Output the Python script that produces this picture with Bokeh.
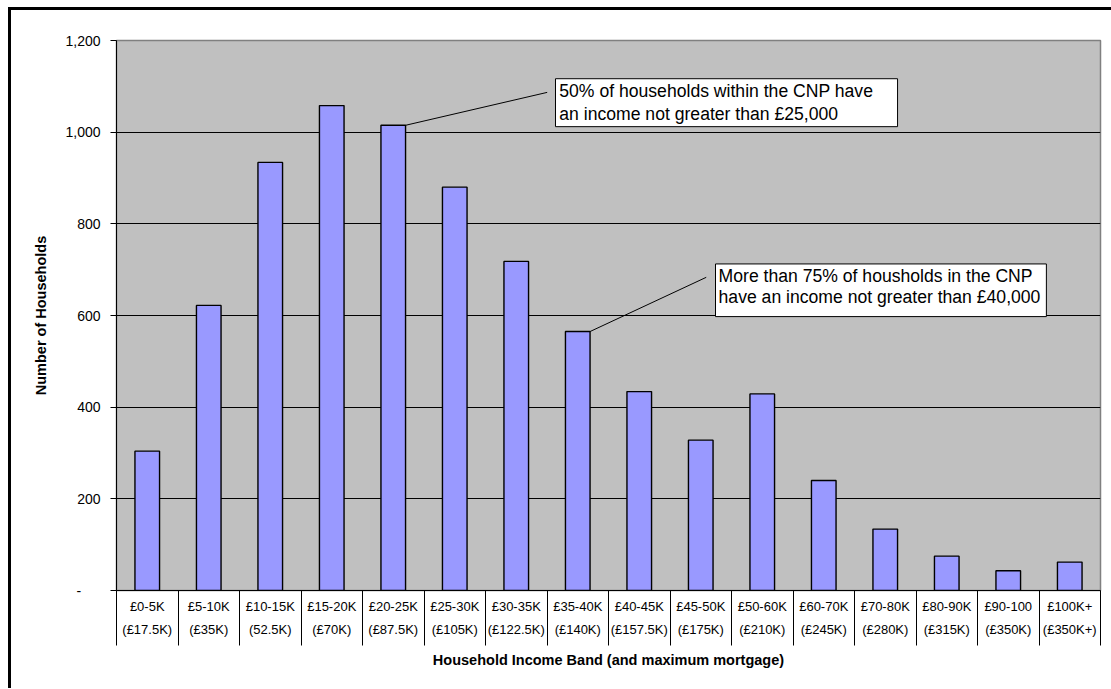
import numpy as np
from bokeh.plotting import figure
from bokeh.layouts import row, column
from bokeh.models import FixedTicker, LinearAxis, NumeralTickFormatter, Range1d, Spacer
from bokeh.core.properties import value
from bokeh.embed import file_html
from bokeh.resources import INLINE

# ---- data ----
bands = ["£0-5K", "£5-10K", "£10-15K", "£15-20K", "£20-25K", "£25-30K", "£30-35K", "£35-40K",
         "£40-45K", "£45-50K", "£50-60K", "£60-70K", "£70-80K", "£80-90K", "£90-100", "£100K+"]
mortgages = ["(£17.5K)", "(£35K)", "(52.5K)", "(£70K)", "(£87.5K)", "(£105K)", "(£122.5K)", "(£140K)",
             "(£157.5K)", "(£175K)", "(£210K)", "(£245K)", "(£280K)", "(£315K)", "(£350K)", "(£350K+)"]
households = [304, 622, 934, 1058, 1015, 880, 718, 565, 434, 328, 429, 240, 134, 75, 43, 62]
y_ticks = [0, 200, 400, 600, 800, 1000, 1200]
note_50 = ["50% of households within the CNP have", "an income not greater than £25,000"]
note_75 = ["More than 75% of housholds in the CNP", "have an income not greater than £40,000"]

FONT = "Liberation Sans"
n = len(bands)
centers = [i + 0.5 for i in range(n)]
bounds = list(range(n + 1))

OX, OY = 11, 10          # page offset of the figure (margin + border)
W, H = 1100, 676
p = figure(width=W, height=H, output_backend="svg", toolbar_location=None,
           x_range=Range1d(0, n), y_range=Range1d(0, 1200),
           min_border_left=116 - OX, min_border_right=W - (1100 - OX),
           min_border_top=40 - OY, min_border_bottom=H - (590 - OY),
           background_fill_color="#C0C0C0", border_fill_color="white")
p.outline_line_color = "#808080"
p.outline_line_width = 1.5

p.xgrid.visible = False
p.ygrid.ticker = FixedTicker(ticks=y_ticks)
p.ygrid.grid_line_color = "black"
p.ygrid.grid_line_width = 1

# bars
p.vbar(x=centers, top=households, width=0.4, bottom=0,
       fill_color="#9999FF", line_color="black", line_width=1.4)

# y axis
ya = p.yaxis[0]
ya.ticker = FixedTicker(ticks=y_ticks)
ya.formatter = NumeralTickFormatter(format="0,0")
ya.major_label_overrides = {0: "-\u00a0\u00a0\u00a0\u00a0\u00a0"}
ya.major_tick_out = 6
ya.major_tick_in = 0
ya.minor_tick_line_color = None
ya.axis_line_color = "black"
ya.major_tick_line_color = "black"
ya.major_label_standoff = 10
ya.major_label_text_font = FONT
ya.major_label_text_font_size = "14px"
ya.major_label_text_color = "black"
ya.axis_label = "Number of Households"
ya.axis_label_text_font = FONT
ya.axis_label_text_font_style = "bold"
ya.axis_label_text_font_size = "14.5px"
ya.axis_label_text_color = "black"
ya.axis_label_standoff = 13

# x axis row 1 (bands) with separators
xa = p.xaxis[0]
xa.ticker = FixedTicker(ticks=centers, minor_ticks=bounds)
xa.major_label_overrides = {c: b for c, b in zip(centers, bands)}
xa.major_tick_line_color = None
xa.major_tick_out = 0
xa.major_tick_in = 0
xa.minor_tick_in = 0
xa.minor_tick_out = 55
xa.minor_tick_line_color = "black"
xa.axis_line_color = "black"
xa.major_label_standoff = -47
xa.major_label_text_font = FONT
xa.major_label_text_font_size = "13px"
xa.major_label_text_color = "black"

# x axis row 2 (mortgages) + title
xa2 = LinearAxis(ticker=FixedTicker(ticks=centers),
                 major_label_overrides={c: m for c, m in zip(centers, mortgages)})
xa2.axis_line_color = None
xa2.major_tick_line_color = None
xa2.minor_tick_line_color = None
xa2.major_tick_out = 0
xa2.major_tick_in = 0
xa2.major_label_standoff = 5
xa2.major_label_text_font = FONT
xa2.major_label_text_font_size = "13px"
xa2.major_label_text_color = "black"
xa2.axis_label = "Household Income Band (and maximum mortgage)"
xa2.axis_label_text_font = FONT
xa2.axis_label_text_font_style = "bold"
xa2.axis_label_text_font_size = "14.5px"
xa2.axis_label_text_color = "black"
xa2.axis_label_standoff = 12
p.add_layout(xa2, "below")

# annotations: leader lines from bar tops, boxes, texts
i50, i75 = 4, 7
p.segment(x0=[centers[i50] + 0.2, centers[i75] + 0.2],
          y0=[households[i50], households[i75]],
          x1=[7.003, 9.589], y1=[1086.8, 683.3],
          line_color="black", line_width=1)
p.quad(left=[7.138, 9.74], right=[12.70, 15.12], top=[1116.6, 712.5], bottom=[1012, 597.6],
       fill_color="white", line_color="black", line_width=1)
p.text(x=[7.20, 7.20], y=[1089, 1040], text=note_50,
       text_font=value(FONT), text_font_size=value("17.6px"), text_color="black",
       text_baseline="middle", text_align="left")
p.text(x=[9.79, 9.79], y=[687, 640], text=note_75,
       text_font=value(FONT), text_font_size=value("17.6px"), text_color="black",
       text_baseline="middle", text_align="left")

# outer chart frame: thick black border on the left and top (rest lies beyond the window)
top_margin = Spacer(width=W + 3, height=7)
top_border = Spacer(width=W + 3, height=3, styles={"background-color": "black"})
left_border = Spacer(width=3, height=H + 2, styles={"background-color": "black"})
page = row(Spacer(width=8, height=H + 12),
           column(top_margin, top_border, row(left_border, p, spacing=0), spacing=0),
           spacing=0)

open("out.html", "w").write(file_html(page, INLINE))
